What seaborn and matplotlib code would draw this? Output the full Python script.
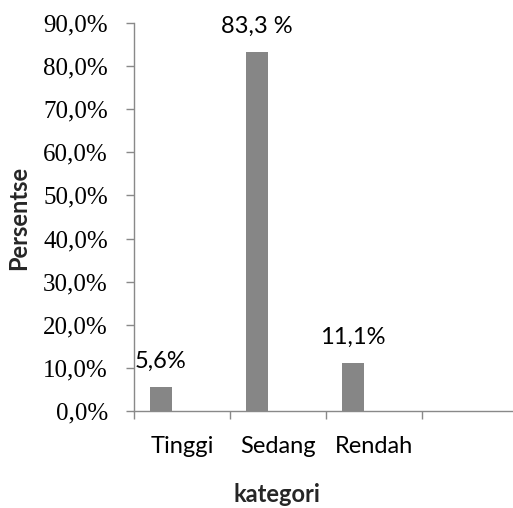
import matplotlib
matplotlib.use("Agg")
import matplotlib.pyplot as plt
import seaborn as sns
import pandas as pd
from matplotlib.ticker import FixedLocator, FuncFormatter

# Data
categories = ["Tinggi", "Sedang", "Rendah"]
percent = [5.6, 83.3, 11.1]
value_labels = ["5,6%", "83,3 %", "11,1%"]
y_ticks = [0, 10, 20, 30, 40, 50, 60, 70, 80, 90]

sns.set_theme(style="white")
plt.rcParams["font.family"] = ["Lato", "DejaVu Sans"]

W, H = 513, 508
fig = plt.figure(figsize=(W / 100, H / 100), dpi=100)
ax = fig.add_axes([134 / W, (H - 411) / H, (513 - 134) / W, (411 - 23) / H])

df = pd.DataFrame({"kategori": categories, "persen": percent})
sns.barplot(data=df, x="kategori", y="persen", order=categories,
            color="#868686", saturation=1, width=0.23, ax=ax, legend=False)

# Bars sit in the left part of each category slot
bar_w = 22 / 96
for i, patch in enumerate(ax.patches):
    patch.set_width(bar_w)
    patch.set_x(i - 0.5 + 16 / 96)
    patch.set_edgecolor("none")

grey = "#898989"
ax.set_xlim(-0.5, 3.5 - 5 / 96)
ax.set_ylim(0, 90)

# Category boundaries get tick marks, names sit between them
ax.xaxis.set_major_locator(FixedLocator([-0.5, 0.5, 1.5, 2.5, 3.5]))
ax.xaxis.set_major_formatter(FuncFormatter(lambda v, p: ""))
ax.xaxis.set_minor_locator(FixedLocator([0, 1, 2]))
ax.xaxis.set_minor_formatter(FuncFormatter(lambda v, p: categories[int(round(v))]))
ax.tick_params(axis="x", which="major", direction="out", length=5.8, width=1,
               color=grey, bottom=True)
ax.tick_params(axis="x", which="minor", length=0, pad=18, labelsize=17,
               labelcolor="black", bottom=True)

ax.set_yticks(y_ticks)
ax.yaxis.set_major_formatter(FuncFormatter(lambda v, p: f"{v:.1f}%".replace(".", ",")))
ax.tick_params(axis="y", direction="out", length=5.8, width=1, color=grey,
               pad=13, labelsize=18, labelcolor="black", left=True)
for lbl in ax.get_yticklabels():
    lbl.set_family("Liberation Serif")

for side in ["top", "right"]:
    ax.spines[side].set_visible(False)
for side in ["left", "bottom"]:
    ax.spines[side].set_color(grey)
    ax.spines[side].set_linewidth(1)

ax.set_xlabel("")
ax.set_ylabel("")

# Value labels above the bars
for i, (v, txt) in enumerate(zip(percent, value_labels)):
    xc = i - 0.5 + 16 / 96 + bar_w / 2
    ax.annotate(txt, (xc, v), xytext=(0, 13.7), textcoords="offset points",
                ha="center", va="baseline", fontsize=17, color="black")

fig.text(277 / W, 2 / H, "kategori", ha="center", va="bottom",
         fontsize=17, fontweight="bold")
fig.text(19 / W, (H - 218) / H, "Persentse", ha="center", va="center",
         rotation=90, fontsize=17, fontweight="bold")

fig.savefig("out.png", dpi=100)
